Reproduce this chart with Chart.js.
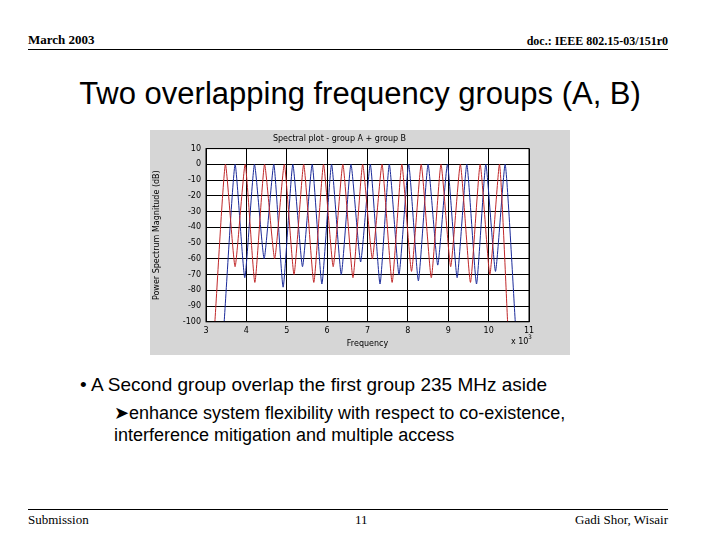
<!DOCTYPE html>
<html><head>
<script src="https://cdn.jsdelivr.net/npm/chart.js@4"></script>
<style>
body{margin:0;width:720px;height:540px;background:#fff;position:relative;overflow:hidden}
.t{position:absolute;white-space:nowrap}
.serif{font-family:"Liberation Serif",serif}
.sans{font-family:"Liberation Sans",Arial,sans-serif}
#wrap{position:absolute;left:150px;top:130px;width:420px;height:225px;background:#d6d6d6}
</style>
</head><body>
<div class="t serif" style="left:28px;top:32px;font-size:13px;font-weight:bold">March 2003</div>
<div class="t serif" style="right:52px;top:34px;font-size:12px;font-weight:bold">doc.: IEEE 802.15-03/151r0</div>
<div style="position:absolute;left:28px;right:52px;top:49px;border-top:1px solid #000"></div>
<div class="t sans" style="left:0;width:720px;text-align:center;top:76px;font-size:31px">Two overlapping frequency groups (A, B)</div>
<div id="wrap"><canvas id="c" width="420" height="225"></canvas></div>
<div class="t sans" style="left:80px;top:374px;font-size:19px">• A Second group overlap the first group 235 MHz aside</div>
<div class="t sans" style="left:114px;top:402px;font-size:18px">&#10148;enhance system flexibility with respect to co-existence,</div>
<div class="t sans" style="left:114px;top:425px;font-size:18px">interference mitigation and multiple access</div>
<div style="position:absolute;left:28px;right:52px;top:509px;border-top:1px solid #000"></div>
<div class="t serif" style="left:28px;top:512px;font-size:13px">Submission</div>
<div class="t serif" style="left:355px;top:512px;font-size:13px">11</div>
<div class="t serif" style="right:52px;top:512px;font-size:13px">Gadi Shor, Wisair</div>
<script>
// group A (red): peaks and nulls, alternating
var redX = [3.22, 3.48, 3.72, 3.97, 4.21, 4.45, 4.70, 4.94, 5.18, 5.42, 5.67, 5.91, 6.15, 6.39, 6.64, 6.88, 7.12, 7.36, 7.61, 7.85, 8.09, 8.33, 8.58, 8.82, 9.06, 9.30, 9.55, 9.79, 10.03, 10.27, 10.47];
var redY = [-100, 0, -65, 0, -75, 0, -60, 0, -70, 0, -75, 0, -65, 0, -72, 0, -60, 0, -75, 0, -68, 0, -72, 0, -65, 0, -75, 0, -70, 0, -100];
// group B (blue)
var blueX = [3.45, 3.72, 3.96, 4.20, 4.44, 4.68, 4.91, 5.15, 5.39, 5.63, 5.87, 6.11, 6.35, 6.59, 6.83, 7.07, 7.31, 7.54, 7.78, 8.02, 8.26, 8.50, 8.74, 8.98, 9.22, 9.46, 9.70, 9.93, 10.17, 10.41, 10.66];
var blueY = [-100, 0, -72, 0, -60, 0, -78, 0, -65, 0, -76, 0, -70, 0, -62, 0, -76, 0, -70, 0, -74, 0, -64, 0, -72, 0, -76, 0, -68, 0, -100];
var yTicks = [10, 0, -10, -20, -30, -40, -50, -60, -70, -80, -90, -100];
var xTicks = [3, 4, 5, 6, 7, 8, 9, 10, 11];

function pts(xs, ys){ return xs.map(function(x, i){ return {x: x, y: ys[i]}; }); }

var bg = {
    id: 'bg',
    beforeDraw: function(chart){
        var a = chart.chartArea, c = chart.ctx;
        c.save(); c.fillStyle = '#fff'; c.fillRect(a.left, a.top, a.right - a.left, a.bottom - a.top); c.restore();
    },
    afterDraw: function(chart){
        var a = chart.chartArea, c = chart.ctx;
        c.save(); c.strokeStyle = '#000'; c.lineWidth = 1; c.strokeRect(a.left, a.top, a.right - a.left, a.bottom - a.top);
        c.font = '8px "DejaVu Sans"'; c.fillStyle = '#000';
        c.fillText('x 10', a.right - 18, a.bottom + 22);
        c.font = '6px "DejaVu Sans"'; c.fillText('3', a.right - 1, a.bottom + 17);
        c.restore();
    }
};

new Chart(document.getElementById('c').getContext('2d'), {
    type: 'line',
    data: {
        datasets: [
            {label: 'A', data: pts(redX, redY), borderColor: '#c0282a', borderWidth: 1, pointRadius: 0, tension: 0.15},
            {label: 'B', data: pts(blueX, blueY), borderColor: '#1a2a9a', borderWidth: 1, pointRadius: 0, tension: 0.15}
        ]
    },
    options: {
        responsive: false, animation: false,
        layout: {padding: {left: 0, right: 41, top: 0, bottom: 0}},
        plugins: {
            legend: {display: false}, tooltip: {enabled: false},
            title: {display: true, text: 'Spectral plot - group A + group B', color: '#000', font: {size: 8, family: 'DejaVu Sans', weight: 'normal'}, padding: {top: 4, bottom: 5}}
        },
        scales: {
            x: {type: 'linear', min: 3, max: 11,
                afterBuildTicks: function(s){ s.ticks = xTicks.map(function(v){ return {value: v}; }); },
                grid: {color: '#000', borderDash: [2, 2], drawTicks: false},
                border: {display: false},
                ticks: {color: '#000', font: {size: 8, family: 'DejaVu Sans'}, padding: 4, maxRotation: 0},
                title: {display: true, text: 'Frequency', color: '#000', font: {size: 8, family: 'DejaVu Sans'}, padding: {top: 0, bottom: 6}}},
            y: {min: -100, max: 10,
                afterBuildTicks: function(s){ s.ticks = yTicks.map(function(v){ return {value: v}; }); },
                afterFit: function(s){ s.width = 56; },
                grid: {color: '#000', borderDash: [2, 2], drawTicks: false},
                border: {display: false},
                ticks: {color: '#000', font: {size: 8, family: 'DejaVu Sans'}, padding: 5},
                title: {display: true, text: 'Power Spectrum Magnitude (dB)', color: '#000', font: {size: 8, family: 'DejaVu Sans'}, padding: 2}}
        }
    },
    plugins: [bg]
});
</script>
</body></html>
